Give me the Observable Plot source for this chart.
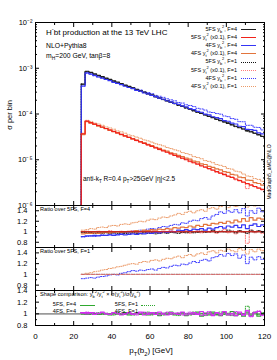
<!DOCTYPE html>
<html><head><meta charset="utf-8">
<script src="https://cdn.jsdelivr.net/npm/d3@7"></script>
<script src="https://cdn.jsdelivr.net/npm/@observablehq/plot@0.6"></script>
<style>
html,body{margin:0;padding:0;background:#fff}
#c{position:relative;width:277px;height:360px;overflow:hidden;font-family:"Liberation Sans",Arial,Helvetica,sans-serif;color:#000}
#c svg{position:absolute;left:0;overflow:visible}
.t{position:absolute;white-space:nowrap;line-height:1}
.t sub,.t sup{font-size:0.72em;line-height:0}
.s{position:absolute;height:0}
</style></head><body><div id="c"></div>
<script>
// ---- bin edges (GeV) ----
const edges = [24,26,28,30,32,34,36,38,40,42,44,46,48,50,52,54,56,58,60,62,64,66,68,70,72,74,76,78,80,82,84,86,88,90,92,94,96,98,100,102,104,106,108,110,112,114,116,118,120];
// 5FS yb^2, F=4  (sigma per bin, units of 1e-5)
const sig5FS_yb_F4 = [45,86,81,75,70,65.5,61,57,53,49.5,46,43,40,37.5,34.5,32.5,30,28,26.2,24.3,22.6,21,19.7,18.2,17,15.8,14.8,13.7,12.8,11.9,11.0,10.3,9.6,8.9,8.3,7.7,7.2,6.7,6.25,5.8,5.4,5.0,4.7,4.35,4.05,3.8,3.5,3.25];
// 5FS yt^2 (x0.1), F=4 (units of 1e-6)
const sig5FS_yt_F4 = [37,70,65,60.3,56,52,48.2,44.7,41.5,38.5,35.7,33.1,30.7,28.5,26.5,24.6,22.8,21.2,19.6,18.2,16.9,15.7,14.6,13.5,12.5,11.6,10.8,10.0,9.3,8.6,8.0,7.4,6.9,6.4,5.9,5.5,5.1,4.75,4.4,4.1,3.8,3.5,3.25,3.0,2.8,2.6,2.4,2.25];
// ratios over 5FS, F=4 (same coupling)
const r4FS_yb_F4 = [0.91,0.92,0.92,0.93,0.92,0.93,0.93,0.94,0.93,0.94,0.95,0.94,0.95,0.96,0.95,0.97,0.96,0.98,0.97,0.99,0.98,1.00,0.99,1.01,1.00,1.03,1.02,1.04,1.02,1.05,1.04,1.06,1.03,1.07,1.05,1.08,1.10,1.07,1.11,1.09,1.12,1.08,1.13,1.06,1.12,1.15,1.10,1.13];
const r4FS_yt_F4 = [0.96,0.97,0.97,0.98,0.97,0.98,0.99,0.98,0.99,1.00,0.99,1.00,1.01,1.00,1.02,1.01,1.03,1.02,1.04,1.03,1.05,1.04,1.06,1.05,1.08,1.07,1.09,1.08,1.11,1.09,1.12,1.10,1.14,1.12,1.16,1.15,1.18,1.16,1.20,1.17,1.22,1.19,1.25,1.20,1.27,1.22,1.26,1.24];
const r5FS_yb_F1 = [0.99,0.98,0.98,0.97,0.98,0.97,0.98,0.97,0.98,0.97,0.98,0.97,0.96,0.98,0.97,0.96,0.98,0.97,0.98,0.96,0.97,0.98,0.97,0.99,0.98,0.97,0.99,0.98,1.00,0.98,0.99,1.01,0.99,1.00,1.02,0.99,1.01,1.00,1.03,1.01,0.98,1.02,1.00,0.97,1.03,1.00,1.02,0.99];
const r5FS_yt_F1 = [1.00,1.01,0.99,1.00,1.01,0.99,1.00,1.02,0.99,1.00,1.01,0.99,1.00,1.02,0.98,1.00,1.01,0.99,1.02,1.00,0.98,1.01,1.00,1.03,0.99,1.01,0.98,1.02,0.97,1.00,1.02,0.98,1.01,0.99,1.03,0.97,1.00,1.04,0.98,1.01,0.96,1.02,0.99,0.78,1.03,0.98,1.01,0.97];
const r4FS_yb_F1 = [0.90,0.91,0.92,0.91,0.93,0.94,0.93,0.95,0.96,0.95,0.97,0.98,0.99,1.01,1.00,1.03,1.02,1.05,1.06,1.05,1.08,1.10,1.09,1.12,1.14,1.13,1.17,1.16,1.20,1.22,1.21,1.25,1.27,1.24,1.30,1.33,1.38,1.35,1.40,1.37,1.42,1.36,1.44,1.30,1.40,1.35,1.45,1.38];
const r4FS_yt_F1 = [1.03,1.04,1.06,1.05,1.08,1.09,1.08,1.11,1.12,1.11,1.14,1.15,1.14,1.17,1.18,1.20,1.19,1.22,1.24,1.23,1.26,1.28,1.27,1.30,1.32,1.35,1.33,1.37,1.39,1.36,1.40,1.42,1.39,1.44,1.46,1.43,1.48,1.50,1.46,1.52,1.48,1.55,1.50,1.47,1.53,1.49,1.55,1.50];
// ratios over 5FS, F=1
const q4FS_yb_F1 = [0.92,0.93,0.94,0.93,0.95,0.96,0.97,0.99,1.00,0.99,1.02,1.03,1.05,1.07,1.06,1.08,1.07,1.09,1.10,1.08,1.11,1.13,1.12,1.15,1.17,1.16,1.19,1.18,1.21,1.24,1.22,1.26,1.28,1.25,1.31,1.33,1.37,1.34,1.39,1.35,1.38,1.30,1.36,1.20,1.32,1.27,1.33,1.28];
const q4FS_yt_F1 = [1.00,1.02,1.03,1.05,1.06,1.08,1.09,1.11,1.12,1.14,1.15,1.17,1.19,1.20,1.19,1.22,1.24,1.23,1.26,1.27,1.25,1.28,1.30,1.29,1.32,1.34,1.31,1.35,1.37,1.34,1.38,1.40,1.37,1.42,1.44,1.40,1.45,1.43,1.47,1.44,1.42,1.48,1.45,1.38,1.46,1.42,1.47,1.44];
// shape comparison
const shape5FS_F4 = [1.00,0.99,1.01,1.00,0.99,1.01,1.00,0.98,1.01,1.00,0.99,1.02,0.98,1.00,1.01,0.99,1.02,0.98,1.00,1.02,0.97,1.01,0.99,1.03,0.98,1.00,1.02,0.97,1.01,0.99,1.03,0.96,1.01,0.98,1.03,0.99,0.97,1.02,0.98,1.04,0.97,1.00,0.96,1.03,0.98,1.02,0.96,1.01];
const shape5FS_F1 = [1.00,1.01,0.99,1.00,1.02,0.99,1.01,1.00,0.98,1.02,1.00,0.99,1.01,0.98,1.02,1.00,0.99,1.03,0.98,1.01,1.00,0.98,1.02,0.99,1.01,0.97,1.02,1.00,0.98,1.03,0.99,1.01,0.97,1.02,1.00,0.98,1.03,0.99,1.01,0.97,1.02,0.99,1.00,1.13,0.97,1.03,0.99,1.02];
const shape4FS_F4 = [1.01,1.00,1.02,0.99,1.01,1.03,1.00,0.99,1.02,1.01,0.98,1.00,1.02,0.99,1.01,1.03,0.98,1.00,1.02,0.99,1.03,1.00,0.98,1.02,1.01,0.99,1.03,0.98,1.00,1.02,0.99,1.04,0.98,1.01,0.97,1.02,1.00,1.04,0.98,1.01,0.97,1.03,0.99,1.05,0.96,1.02,1.04,0.98];
const shape4FS_F1 = [1.02,1.03,1.01,1.02,1.00,1.02,1.01,0.99,1.02,1.00,1.01,0.99,1.02,1.00,0.98,1.01,1.03,0.99,1.00,1.02,0.98,1.01,1.03,0.99,1.00,1.02,0.98,1.01,1.03,0.99,1.01,0.97,1.02,1.04,0.99,1.01,0.97,1.03,1.00,0.98,1.04,1.01,0.97,1.06,0.95,1.03,1.05,0.97];
// ticks & labels
const xTicks = [0,20,40,60,80,100,120];
const xMinor = [10,30,50,70,90,110];
const yMainTicks = [1e-6,1e-5,1e-4,1e-3,1e-2];
const ratioTicks = [0.8,1,1.2,1.4];
const ratioMinor = [0.9,1.1,1.3];
const legendLabels = [
  "5FS y<sub>b</sub><sup>2</sup>, F=4","5FS y<sub>t</sub><sup>2</sup> (x0.1), F=4",
  "4FS y<sub>b</sub><sup>2</sup>, F=4","4FS y<sub>t</sub><sup>2</sup> (x0.1), F=4",
  "5FS y<sub>b</sub><sup>2</sup>, F=1","5FS y<sub>t</sub><sup>2</sup> (x0.1), F=1",
  "4FS y<sub>b</sub><sup>2</sup>, F=1","4FS y<sub>t</sub><sup>2</sup> (x0.1), F=1"];
const shapeLabels = ["5FS, F=4","5FS, F=1","4FS, F=4","4FS, F=1"];

// ---- build series ----
const m5b = sig5FS_yb_F4.map(v => v * 1e-5);
const m5t = sig5FS_yt_F4.map(v => v * 1e-6);
const mul = (a, r) => a.map((v, i) => v * r[i]);
const DOT = "1.1,1.4";
const series = [
  {v: m5b, ref: m5b, stroke: "#1e1e1e", dash: null},
  {v: m5t, ref: m5t, stroke: "#f0221a", dash: null},
  {v: mul(m5b, r4FS_yb_F4), ref: m5b, stroke: "#3535f5", dash: null},
  {v: mul(m5t, r4FS_yt_F4), ref: m5t, stroke: "#e2743c", dash: null},
  {v: mul(m5b, r5FS_yb_F1), ref: m5b, stroke: "#111111", dash: DOT},
  {v: mul(m5t, r5FS_yt_F1), ref: m5t, stroke: "#ff7b7b", dash: DOT},
  {v: mul(m5b, r4FS_yb_F1), ref: m5b, stroke: "#3c3cff", dash: DOT},
  {v: mul(m5t, r4FS_yt_F1), ref: m5t, stroke: "#eb9a68", dash: DOT}
];
const drawOrder = [7, 5, 6, 4, 3, 0, 2, 1];

function hist(vals) {
  const pts = vals.map((v, i) => ({x: edges[i], y: v}));
  pts.push({x: edges[vals.length], y: vals[vals.length - 1]});
  return pts;
}
function histLine(vals, s) {
  return Plot.line(hist(vals), {x: "x", y: "y", curve: "step-after", stroke: s.stroke,
    strokeWidth: s.dash ? 1 : 1.2, strokeDasharray: s.dash || undefined, clip: true});
}

const c = document.getElementById("c");
const FONT = "'Liberation Sans', Arial, Helvetica, sans-serif";
const blank = () => "";
function frameTicks(yMajor, yMinor) {
  const o = {tickFormat: blank, label: null};
  return [
    Plot.axisX(xTicks, {...o, anchor: "bottom", tickSize: -4}),
    Plot.axisX(xTicks, {...o, anchor: "top", tickSize: -4}),
    Plot.axisX(xMinor, {...o, anchor: "bottom", tickSize: -2}),
    Plot.axisX(xMinor, {...o, anchor: "top", tickSize: -2}),
    Plot.axisY(yMajor, {...o, anchor: "left", tickSize: -4}),
    Plot.axisY(yMajor, {...o, anchor: "right", tickSize: -4}),
    Plot.axisY(yMinor, {...o, anchor: "left", tickSize: -2}),
    Plot.axisY(yMinor, {...o, anchor: "right", tickSize: -2}),
    Plot.frame({stroke: "#000", strokeWidth: 1})
  ];
}
function panel(top, height, mt, mb, yOpt, marks) {
  const svg = Plot.plot({
    width: 277, height, marginLeft: 35, marginRight: 13, marginTop: mt, marginBottom: mb,
    style: {background: "transparent", fontFamily: FONT, fontSize: "7.5px", overflow: "visible"},
    x: {domain: [0, 120], label: null},
    y: {...yOpt, label: null},
    marks
  });
  svg.style.top = top + "px";
  c.appendChild(svg);
}
const supDigits = {"-": "\u207b", "0": "\u2070", "1": "\u00b9", "2": "\u00b2", "3": "\u00b3", "4": "\u2074", "5": "\u2075", "6": "\u2076", "7": "\u2077", "8": "\u2078", "9": "\u2079"};
const logFmt = d => "10" + String(Math.round(Math.log10(d))).split("").map(ch => supDigits[ch]).join("");
const ratioFmt = d => d === 1 ? "1" : d.toFixed(1);
const logMinor = [];
for (const t of yMainTicks.slice(0, -1)) for (let m = 2; m <= 9; m++) logMinor.push(m * t);

// ---- main panel ----
const yMin = yMainTicks[0];
const mainMarks = [];
for (const k of drawOrder) {
  const s = series[k];
  mainMarks.push(histLine(s.v, s));
  mainMarks.push(Plot.ruleX([{x: edges[0], y1: yMin, y2: s.v[0]}], {x: "x", y1: "y1", y2: "y2", stroke: s.stroke, strokeWidth: s.dash ? 1 : 1.2, strokeDasharray: s.dash || undefined}));
}
mainMarks.push(Plot.axisY(yMainTicks, {anchor: "left", tickSize: 0, tickPadding: 3, tickFormat: logFmt, label: null, fontSize: 7.5}));
mainMarks.push(...frameTicks(yMainTicks, logMinor));
panel(0, 206, 22, 1, {type: "log", domain: [yMainTicks[0], yMainTicks[yMainTicks.length - 1]]}, mainMarks);

// ---- ratio over 5FS, F=4 ----
const r1Marks = [];
for (const k of drawOrder) {
  const s = series[k];
  r1Marks.push(histLine(s.v.map((v, i) => v / s.ref[i]), s));
}
r1Marks.push(Plot.axisY(ratioTicks, {anchor: "left", tickSize: 0, tickPadding: 8, tickFormat: ratioFmt, label: null, fontSize: 7.5}));
r1Marks.push(...frameTicks(ratioTicks, ratioMinor));
panel(205, 42, 0, 0, {domain: [0.7, 1.5]}, r1Marks);

// ---- ratio over 5FS, F=1 ----
const r2Marks = [
  histLine(q4FS_yt_F1, series[7]),
  histLine(q4FS_yb_F1, series[6]),
  histLine(series[4].v.map((v, i) => v / series[4].v[i]), series[4]),
  histLine(series[5].v.map((v, i) => v / series[5].v[i]), series[5]),
  Plot.axisY(ratioTicks, {anchor: "left", tickSize: 0, tickPadding: 8, tickFormat: ratioFmt, label: null, fontSize: 7.5}),
  ...frameTicks(ratioTicks, ratioMinor)
];
panel(247, 43, 0, 0, {domain: [0.7, 1.5]}, r2Marks);

// ---- shape comparison ----
const GREEN = "#2fa82f", MAG = "#d22cf0";
const r3Marks = [
  Plot.ruleY([1], {stroke: "#9a9a9a", strokeWidth: 1.6}),
  histLine(shape5FS_F1, {stroke: GREEN, dash: DOT}),
  histLine(shape5FS_F4, {stroke: GREEN, dash: null}),
  histLine(shape4FS_F1, {stroke: MAG, dash: DOT}),
  histLine(shape4FS_F4, {stroke: MAG, dash: null}),
  Plot.axisY(ratioTicks, {anchor: "left", tickSize: 0, tickPadding: 8, tickFormat: ratioFmt, label: null, fontSize: 7.5}),
  Plot.axisX(xTicks, {anchor: "bottom", tickSize: 0, tickPadding: 8, label: null, fontSize: 8}),
  ...frameTicks(ratioTicks, ratioMinor)
];
panel(290, 60, 0, 25, {domain: [0.8, 1.4]}, r3Marks);

// ---- texts ----
function txt(html, x, y, fs, align = "left") {
  const d = document.createElement("div");
  d.className = "t"; d.innerHTML = html; d.style.fontSize = fs + "px";
  d.style.top = (y - fs * 0.5) + "px";
  if (align === "left") d.style.left = x + "px";
  else if (align === "right") d.style.right = (277 - x) + "px";
  else { d.style.left = x + "px"; d.style.transform = "translateX(-50%)"; }
  c.appendChild(d);
  return d;
}
function rot(html, x, y, fs) {
  const d = document.createElement("div");
  d.className = "t"; d.innerHTML = html; d.style.fontSize = fs + "px";
  d.style.left = x + "px"; d.style.top = y + "px";
  d.style.transform = "translate(-50%,-50%) rotate(-90deg)";
  c.appendChild(d);
}
function sample(x1, x2, y, color, dotted, w) {
  const d = document.createElement("div");
  d.className = "s";
  d.style.left = x1 + "px"; d.style.width = (x2 - x1) + "px"; d.style.top = (y - w / 2) + "px";
  d.style.borderTop = w + "px " + (dotted ? "dotted " : "solid ") + color;
  c.appendChild(d);
}

txt("H<sup>-</sup>bt production at the 13 TeV LHC", 46, 33, 8);
txt("NLO+Pythia8", 46, 46, 6.8);
txt("m<sub>H</sub>=200 GeV, tan&beta;=8", 46, 56, 6.8);
txt("anti-k<sub>T</sub> R=0.4 p<sub>T</sub>&gt;25GeV |&eta;|&lt;2.5", 83, 179, 6.5);
rot("&sigma; per bin", 10, 115, 7.5);
rot("MadGraph5_aMC@NLO", 269, 172, 5);
txt("p<sub>T</sub>(b<sub>2</sub>) [GeV]", 151, 351, 8, "center");

legendLabels.forEach((lab, i) => {
  const y = 29.3 + i * 8.2;
  txt(lab, 237, y, 5.5, "right");
  const s = series[i];
  sample(241, 256, y, s.stroke, !!s.dash, s.dash ? 1 : 1.3);
});

txt("Ratio over 5FS, F=4", 40, 210, 5.6);
txt("Ratio over 5FS, F=1", 40, 252, 5.6);
txt("Shape comparison: y<sub>b</sub><sup>2</sup>/y<sub>t</sub><sup>2</sup> &times; &sigma;(y<sub>t</sub><sup>2</sup>)/&sigma;(y<sub>b</sub><sup>2</sup>)", 40, 295, 5.6);
txt(shapeLabels[0], 76, 305, 5.6, "right"); sample(80, 95, 305, GREEN, false, 1);
txt(shapeLabels[1], 138, 305, 5.6, "right"); sample(141, 155, 305, GREEN, true, 1);
txt(shapeLabels[2], 76, 312, 5.6, "right"); sample(80, 95, 312, MAG, false, 1);
txt(shapeLabels[3], 138, 312, 5.6, "right"); sample(141, 155, 312, MAG, true, 1);
</script></body></html>
